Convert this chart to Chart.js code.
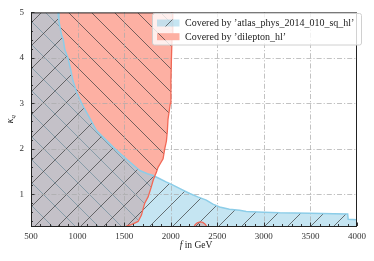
<!DOCTYPE html>
<html lang="en">
<head>
<meta charset="UTF-8">
<title>Coverage in the f - kappa_q plane</title>
<script src="https://cdn.jsdelivr.net/npm/chart.js"></script>
<style>
    body {
        margin: 0;
        background: #fff;
    }
    #cov {
        display: block;
    }
</style>
</head>
<body>
<canvas id="cov" width="374" height="261"></canvas>
<script>
// axis ticks
const xTicks = [500, 1000, 1500, 2000, 2500, 3000, 3500, 4000];
const yTicks = [1, 2, 3, 4, 5];
const xMinorStep = 100;
const yMinorStep = 0.2;

// upper edge of the region covered by 'atlas_phys_2014_010_sq_hl'
const atlasF = [500, 790, 800, 828, 846, 864, 896, 925, 950, 990, 1043, 1110, 1203, 1300, 1410, 1530, 1668, 1750, 1811, 1882, 1950, 2025, 2110, 2204, 2290, 2382, 2453, 2525, 2630, 2739, 2811, 3000, 3168, 3500, 3750, 3900, 3905, 4000];
const atlasK = [5, 5, 4.8, 4.5, 4.4, 4.17, 4.0, 3.75, 3.5, 3.25, 3.0, 2.75, 2.4, 2.2, 1.98, 1.76, 1.52, 1.45, 1.41, 1.34, 1.27, 1.2, 1.11, 1.015, 0.94, 0.87, 0.78, 0.72, 0.67, 0.645, 0.62, 0.605, 0.59, 0.58, 0.57, 0.565, 0.45, 0.44];

// lower/right edge of the region covered by 'dilepton_hl' (filled up to the top)
const dilepF = [500, 1525, 1579, 1650, 1686, 1700, 1721, 1757, 1790, 1811, 1829, 1846, 1864, 1890, 1918, 1936, 1954, 1964, 1971, 1996, 2002, 2008, 2015, 2022];
const dilepK = [0.3, 0.3, 0.33, 0.40, 0.54, 0.65, 0.80, 0.94, 1.15, 1.30, 1.40, 1.48, 1.59, 1.68, 1.78, 2.0, 2.17, 2.39, 2.65, 3.0, 3.5, 4.0, 4.5, 5.0];

// small 'dilepton_hl' island at the bottom
const blobF = [2250, 2262, 2285, 2315, 2345, 2370, 2390];
const blobK = [0.28, 0.33, 0.37, 0.39, 0.38, 0.34, 0.28];

const labels = ["Covered by \u2019atlas_phys_2014_010_sq_hl\u2019", "Covered by \u2019dilepton_hl\u2019"];

const serif = '"Liberation Serif", "DejaVu Serif", serif';

function pts(xs, ys) {
    return xs.map((x, i) => ({ x: x, y: ys[i] }));
}

// hatched fill: background colour plus diagonal lines ('/' : x+y=c, '\' : x-y=c)
function hatch(bg, dir, offset) {
    const s = 23;
    const c = document.createElement('canvas');
    c.width = s; c.height = s;
    const g = c.getContext('2d');
    g.fillStyle = bg;
    g.fillRect(0, 0, s, s);
    g.strokeStyle = 'rgba(60,60,60,0.7)';
    g.lineWidth = 1;
    g.beginPath();
    for (let k = -1; k <= 2; k++) {
        const d = offset + k * s;
        if (dir === '/') {
            g.moveTo(d + 3, -3); g.lineTo(d - s - 3, s + 3);
        } else {
            g.moveTo(d - 3, -3); g.lineTo(d + s + 3, s + 3);
        }
    }
    g.stroke();
    return g.createPattern(c, 'repeat');
}

const blueFill = hatch('rgba(150,208,231,0.55)', '/', 8);
const redFill = hatch('rgb(253,176,163)', '\\', 10);
const blueEdge = 'rgb(140,205,232)';
const redEdge = 'rgb(242,104,86)';

// grid, inward ticks and the frame
const framePlugin = {
    id: 'frame',
    afterDatasetDraw(chart, args) {
        if (args.index !== 3) return;
        const { ctx, chartArea: a, scales: { x, y } } = chart;
        ctx.save();
        ctx.strokeStyle = 'rgba(170,170,170,0.9)';
        ctx.lineWidth = 0.8;
        ctx.setLineDash([5, 2, 1.2, 2]);
        xTicks.forEach(v => {
            if (v <= x.min || v >= x.max) return;
            const px = Math.round(x.getPixelForValue(v)) + 0.5;
            ctx.beginPath(); ctx.moveTo(px, a.top); ctx.lineTo(px, a.bottom); ctx.stroke();
        });
        yTicks.forEach(v => {
            if (v <= y.min || v >= y.max) return;
            const py = Math.round(y.getPixelForValue(v)) + 0.5;
            ctx.beginPath(); ctx.moveTo(a.left, py); ctx.lineTo(a.right, py); ctx.stroke();
        });
        ctx.restore();
    },
    afterDraw(chart) {
        const { ctx, chartArea: a, scales: { x, y } } = chart;
        ctx.save();
        ctx.strokeStyle = '#333';
        ctx.lineWidth = 1;
        ctx.beginPath();
        for (let v = x.min; v <= x.max + 1e-6; v += xMinorStep) {
            const major = xTicks.includes(Math.round(v));
            const px = Math.round(x.getPixelForValue(v)) + 0.5;
            ctx.moveTo(px, a.bottom); ctx.lineTo(px, a.bottom - (major ? 3.5 : 2));
        }
        const y0 = Math.ceil(y.min / yMinorStep) * yMinorStep;
        for (let v = y0; v <= y.max + 1e-6; v += yMinorStep) {
            const major = Math.abs(v - Math.round(v)) < 1e-6;
            const py = Math.round(y.getPixelForValue(v)) + 0.5;
            ctx.moveTo(a.left, py); ctx.lineTo(a.left + (major ? 3.5 : 2), py);
        }
        ctx.stroke();
        ctx.strokeStyle = '#222';
        ctx.strokeRect(a.left + 0.5, a.top + 0.5, a.right - a.left - 1, a.bottom - a.top);

        // legend
        const lx = 152.5, ly = 13.5, lw = 209, lh = 31.5;
        ctx.fillStyle = 'rgba(255,255,255,0.8)';
        ctx.strokeStyle = '#d0d0d0';
        ctx.beginPath();
        ctx.roundRect(lx, ly, lw, lh, 2);
        ctx.fill(); ctx.stroke();
        const fills = [blueFill, redFill];
        fills.forEach((f, i) => {
            const ry = 19.5 + i * 13.7;
            ctx.fillStyle = f;
            ctx.fillRect(157, ry, 22.5, 7);
            ctx.fillStyle = '#222';
            ctx.font = '10px ' + serif;
            ctx.textBaseline = 'middle';
            ctx.textAlign = 'left';
            ctx.fillText(labels[i], 185, ry + 3.7);
        });

        // axis titles
        ctx.fillStyle = '#222';
        ctx.textBaseline = 'alphabetic';
        const t1 = 'f', t2 = ' in GeV';
        ctx.font = 'italic 9.5px ' + serif;
        const w1 = ctx.measureText(t1).width;
        ctx.font = '9.5px ' + serif;
        const w2 = ctx.measureText(t2).width;
        const cx = (a.left + a.right) / 2 + 2 - (w1 + w2) / 2;
        ctx.font = 'italic 9.5px ' + serif;
        ctx.fillText(t1, cx, 248);
        ctx.font = '9.5px ' + serif;
        ctx.fillText(t2, cx + w1, 248);

        ctx.translate(13, (a.top + a.bottom) / 2);
        ctx.rotate(-Math.PI / 2);
        ctx.font = 'italic 10px ' + serif;
        const kw = ctx.measureText('\u03ba').width;
        ctx.font = 'italic 7px ' + serif;
        const qw = ctx.measureText('q').width;
        const sx = -(kw + qw) / 2;
        ctx.font = 'italic 10px ' + serif;
        ctx.fillText('\u03ba', sx, 0);
        ctx.font = 'italic 7px ' + serif;
        ctx.fillText('q', sx + kw, 2);
        ctx.restore();
    }
};

new Chart(document.getElementById('cov'), {
    type: 'line',
    data: {
        datasets: [
            { data: pts(dilepF, dilepK).filter(p => p.x >= 1525), borderColor: redEdge, borderWidth: 1.3, pointRadius: 0, fill: false },
            { data: pts(atlasF, atlasK).filter(p => p.x >= 790), borderColor: blueEdge, borderWidth: 1.5, pointRadius: 0, fill: false },
            { data: pts(blobF, blobK), borderColor: redEdge, borderWidth: 1.3, pointRadius: 0, fill: false },
            { data: pts(atlasF, atlasK), borderWidth: 0, pointRadius: 0, fill: 'start', backgroundColor: blueFill },
            { data: pts(dilepF, dilepK), borderWidth: 0, pointRadius: 0, fill: 'end', backgroundColor: redFill },
            { data: pts(blobF, blobK), borderWidth: 0, pointRadius: 0, fill: 'start', backgroundColor: redFill }
        ]
    },
    options: {
        responsive: false,
        animation: false,
        events: [],
        devicePixelRatio: 1,
        layout: { padding: { top: 10, right: 17, left: 0, bottom: 0 } },
        elements: { line: { tension: 0 } },
        plugins: { legend: { display: false }, tooltip: { enabled: false } },
        scales: {
            x: {
                type: 'linear',
                min: 500,
                max: 4000,
                grid: { display: false, drawTicks: false },
                border: { display: false },
                afterBuildTicks: s => { s.ticks = xTicks.map(v => ({ value: v })); },
                afterFit: s => { s.height = 35; },
                ticks: {
                    padding: 5,
                    maxRotation: 0,
                    color: '#333',
                    font: { family: serif, size: 9 },
                    callback: v => String(v)
                }
            },
            y: {
                type: 'linear',
                min: 0.3,
                max: 5,
                grid: { display: false, drawTicks: false },
                border: { display: false },
                afterBuildTicks: s => { s.ticks = yTicks.map(v => ({ value: v })); },
                afterFit: s => { s.width = 31; },
                ticks: {
                    padding: 7,
                    color: '#333',
                    font: { family: serif, size: 9 },
                    callback: v => String(v)
                }
            }
        }
    },
    plugins: [framePlugin]
});
</script>
</body>
</html>
